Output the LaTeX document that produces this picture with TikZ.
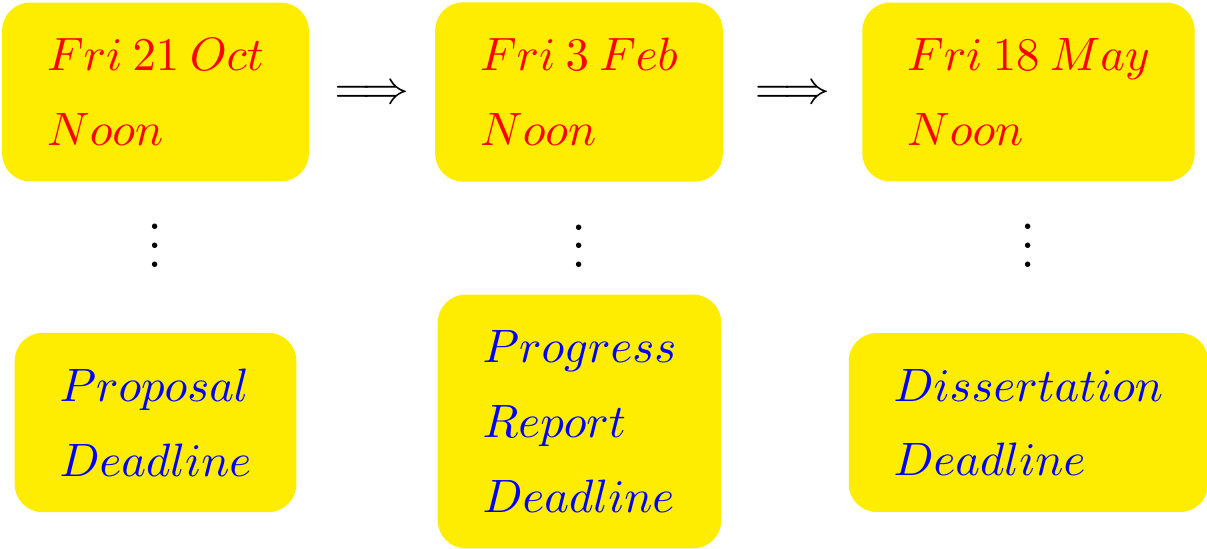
\documentclass[tikz,border=0pt]{standalone}
\usepackage{amsmath,amssymb}
\usetikzlibrary{positioning,calc}
\definecolor{notice}{RGB}{255,237,0}
\tikzset{
    datebox/.style={fill=notice,rounded corners=6pt,inner xsep=9.6pt,inner ysep=7.7pt,align=left,text=red,font=\fontsize{10}{16}\selectfont},
    taskbox/.style={datebox,text=blue},
    then/.style={font=\normalsize,yshift=-0.65pt},
    more/.style={font=\large,anchor=base}
}
\begin{document}
\begin{tikzpicture}[x=0.2137pt,y=-0.2137pt]
    \useasboundingbox (0,0) rectangle (1207,548);
    % dates
    \node[datebox] (oct) at (155.5,92) {$Fri\:21\:Oct$\\$Noon$};
    \node[datebox] (feb) at (579,92) {$Fri\:3\:Feb$\\$Noon$};
    \node[datebox] (may) at (1028.5,92) {$Fri\:18\:May$\\$Noon$};
    % deadlines
    \node[taskbox] (proposal) at (155.5,422.5) {$Proposal$\\$Deadline$};
    \node[taskbox] (report) at (579.5,421.5) {$Progress$\\$Report$\\$Deadline$};
    \node[taskbox] (thesis) at (1028.5,422.5) {$Dissertation$\\$Deadline$};
    \node[then] (toFeb) at ($(oct.east)!0.5!(feb.west)$) {$\Longrightarrow$};
    \node[then] (toMay) at ($(feb.east)!0.5!(may.west)$) {$\Longrightarrow$};
    \node[more] (dotsA) at ($(oct.south)+(0,85)$) {$\vdots$};
    \node[more] (dotsB) at ($(feb.south)+(0,85)$) {$\vdots$};
    \node[more] (dotsC) at ($(may.south)+(0,85)$) {$\vdots$};
\end{tikzpicture}
\end{document}
